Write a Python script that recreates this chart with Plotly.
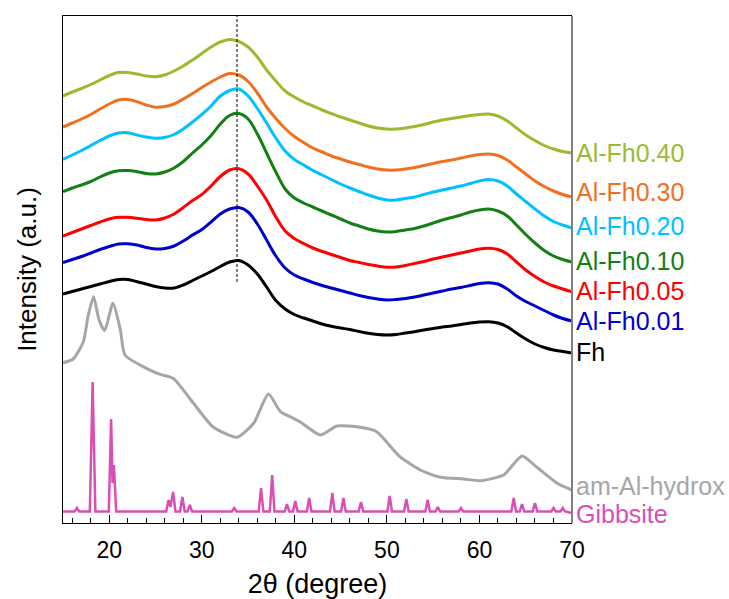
import plotly.graph_objects as go

# ---- data (2-theta in degrees, intensity in arbitrary units, stacked) ----
THETA = list(range(15, 71))  # 15 ... 70 degrees

FH_040 = [427, 431, 434.5, 438.5, 443, 447.5, 450.5, 450.5, 449, 447, 446.3, 448, 452, 457,
          463, 469.5, 476, 481, 483.5, 481.5, 476, 466, 453, 442, 432, 426, 421, 417,
          413, 409.5, 406, 403, 400, 397, 395, 394, 394, 395, 396.5, 398.5, 401, 403,
          404.5, 406, 407.5, 408.5, 409, 407, 402, 395, 388, 382.5, 377.5, 374, 371.5, 370]
FH_030 = [396, 400, 404, 408.5, 414, 419, 423, 423.5, 421.3, 418, 415.8, 416.5, 419, 424,
          429.5, 435.5, 441, 446, 449.5, 448, 441.5, 430, 416, 404.5, 394.5, 386.5, 380.5, 375,
          371, 367, 364, 361, 358.5, 356, 354, 353, 353, 354, 355.5, 357.5, 359.5, 361.5,
          363, 365, 367, 368.5, 369, 367.5, 363, 356, 349, 342, 336.5, 332, 328.5, 326]
FH_020 = [363.7, 368, 372.5, 377.5, 382.5, 387, 390, 390.3, 388, 386, 384.7, 385.5, 388.5, 394,
          401, 408.5, 417, 427, 432.5, 434, 427, 414.5, 400, 385, 372, 363.5, 358, 352.5,
          348, 343.5, 339, 335, 331.5, 328, 325, 323, 323, 324.5, 326, 328.5, 331, 333,
          335, 337, 339.5, 342, 343.5, 342, 337, 329, 321.5, 314, 307, 301.5, 298, 295]
FH_010 = [331.3, 335, 338, 341.5, 346, 350, 352.3, 352.5, 351.3, 349.5, 349, 351, 355, 361.5,
          370, 378, 387.5, 399, 407.5, 409.5, 404, 389, 370, 351, 334, 325, 320, 316,
          312, 308, 304, 300, 297, 294, 292, 291, 291.5, 293, 294.5, 297, 300, 303,
          305.5, 308, 311, 313, 314, 312, 307, 298, 288.5, 280, 272.5, 267, 263.5, 261]
FH_005 = [287, 290.5, 294, 297.5, 301, 304, 305.7, 305.7, 304.7, 303.5, 303, 305, 309, 315.5,
          322.5, 328.5, 337, 346.5, 353, 354.3, 349, 337, 323, 306, 292, 284.5, 279.5, 275,
          271.5, 268.5, 265.5, 262.5, 260.5, 258.5, 257, 255.7, 256, 257.5, 259.5, 261.5, 264, 266,
          268, 270, 272, 274, 274.7, 273.5, 269, 261, 253, 246.5, 241, 237, 234, 231.3]
FH_001 = [260.3, 263.5, 266.5, 270, 273.5, 276.5, 279, 279.2, 278, 275.5, 274, 274.5, 277, 282,
          288, 293.5, 301, 309, 314, 315.5, 311, 299, 283, 267, 255, 248, 244, 240.5,
          237.5, 235, 232.5, 230, 227.5, 225.5, 224, 223, 223.5, 224.5, 226, 228, 230, 232,
          234, 235.5, 237.5, 239.5, 240.3, 239, 234, 227, 221.5, 217, 212.5, 208, 204.5, 202]
FH_000 = [229, 231.5, 234, 236.5, 239, 241.5, 243.5, 243.5, 241.3, 239, 236.5, 235, 235, 238,
          242.5, 247, 251.5, 256.5, 261, 262.5, 258, 249, 236, 222.5, 214, 208.5, 205, 202,
          199, 196.7, 195, 193.5, 191.5, 189.7, 188.5, 188, 188.5, 190, 191.3, 193, 194.5, 196,
          197, 198.5, 200, 201, 201.3, 200, 196.3, 190, 184, 179, 175.5, 173, 171.5, 170]

AM_X = [15, 16.1, 17.2, 17.7, 18.3, 18.9, 19.5, 20.4, 21.2, 21.7, 24.0, 25.5, 26.9,
        29.1, 31.2, 33.8, 35.6, 37.2, 38.5, 39.9, 40.6, 42.8, 44.6, 47.1, 48.9,
        51.4, 53.6, 55.8, 58.3, 60.1, 62.6, 64.6, 66.2, 68.4, 70]
AM_I = [160.3, 164, 181.3, 206.3, 226.3, 203, 192.3, 219.7, 193, 168, 154.7, 148.7, 144.7,
        119.7, 96.3, 85.7, 99.7, 129, 111.3, 104.7, 101.3, 88, 97, 95.7, 91.3,
        66.3, 53, 45.7, 44, 42.3, 48, 67, 55.7, 39.7, 33]

GIB_X = [15, 16.25, 16.5, 16.75, 17.9, 18.2, 18.5, 19.95, 20.2, 20.35, 20.5, 20.75,
         26.15, 26.4, 26.6, 26.9, 27.15, 27.65, 27.9, 28.15, 28.45, 28.7, 28.95,
         33.25, 33.5, 33.75, 36.15, 36.4, 36.65, 37.35, 37.6, 37.85, 38.95, 39.2, 39.45,
         39.85, 40.1, 40.35, 41.35, 41.6, 41.85, 43.85, 44.1, 44.35, 45.05, 45.3, 45.55,
         46.95, 47.2, 47.45, 50.05, 50.3, 50.55, 51.85, 52.1, 52.35, 54.15, 54.4, 54.65,
         55.25, 55.5, 55.75, 57.75, 58.0, 58.25, 63.45, 63.7, 63.95, 64.35, 64.6, 64.85,
         65.75, 66.0, 66.25, 67.75, 68.0, 68.25, 68.75, 69.0, 69.25, 70]
GIB_I = [11.5, 11.5, 15, 11.5, 11.5, 141, 11.5, 11.5, 104, 40, 58, 11.5,
         11.5, 23, 16, 31, 11.5, 11.5, 26, 11.5, 11.5, 18, 11.5,
         11.5, 15, 11.5, 11.5, 35, 11.5, 11.5, 48, 11.5, 11.5, 19, 11.5,
         11.5, 22, 11.5, 11.5, 25, 11.5, 11.5, 30, 11.5, 11.5, 25, 11.5,
         11.5, 21, 11.5, 11.5, 27, 11.5, 11.5, 24, 11.5, 11.5, 23, 11.5,
         11.5, 16, 11.5, 11.5, 15, 11.5, 11.5, 25, 11.5, 11.5, 19, 11.5,
         11.5, 20, 11.5, 11.5, 15, 11.5, 11.5, 15, 11.5, 10]

SERIES = [
    ("Al-Fh0.40", FH_040, "#9BBB2F"),
    ("Al-Fh0.30", FH_030, "#F07022"),
    ("Al-Fh0.20", FH_020, "#00C0FF"),
    ("Al-Fh0.10", FH_010, "#138013"),
    ("Al-Fh0.05", FH_005, "#FF0000"),
    ("Al-Fh0.01", FH_001, "#0000CD"),
    ("Fh", FH_000, "#000000"),
]
AM_NAME, AM_COLOR = "am-Al-hydrox", "#A6A6A6"
GIB_NAME, GIB_COLOR = "Gibbsite", "#D94FB4"

PEAK_LINE_X = 33.8
LABEL_I = [370, 331, 297, 262, 232, 202, 171, 37, 9]

FONT = "Arial, Liberation Sans, sans-serif"

fig = go.Figure()
for name, vals, col in SERIES:
    fig.add_trace(go.Scatter(x=THETA, y=vals, mode="lines", name=name,
                             line=dict(color=col, width=3, shape="spline", smoothing=1.0)))
fig.add_trace(go.Scatter(x=AM_X, y=AM_I, mode="lines", name=AM_NAME,
                         line=dict(color=AM_COLOR, width=3, shape="spline", smoothing=0.6)))
fig.add_trace(go.Scatter(x=GIB_X, y=GIB_I, mode="lines", name=GIB_NAME,
                         line=dict(color=GIB_COLOR, width=2.5)))

names = [s[0] for s in SERIES] + [AM_NAME, GIB_NAME]
cols = [s[2] for s in SERIES] + [AM_COLOR, GIB_COLOR]
for nm, c, yi in zip(names, cols, LABEL_I):
    fig.add_annotation(x=70, y=yi, xref="x", yref="y", text=nm, showarrow=False,
                       xanchor="left", yanchor="middle", xshift=2,
                       font=dict(family=FONT, size=25, color=c))

fig.add_shape(type="line", x0=PEAK_LINE_X, x1=PEAK_LINE_X, y0=241, y1=507,
              xref="x", yref="y", line=dict(color="black", width=1, dash="3px,2px"))
fig.add_shape(type="line", x0=1, x1=1, y0=0, y1=1, xref="paper", yref="paper",
              line=dict(color="#808080", width=2))

fig.update_layout(
    width=729, height=599,
    margin=dict(l=63, r=157, t=16, b=76),
    paper_bgcolor="white", plot_bgcolor="white",
    showlegend=False,
    font=dict(family=FONT, color="black"),
    xaxis=dict(range=[15, 70], tickvals=[20, 30, 40, 50, 60, 70],
               ticks="inside", ticklen=8, tickwidth=1, tickcolor="black",
               minor=dict(dtick=2, tick0=0, ticks="inside", ticklen=5, tickcolor="black"),
               showline=True, linecolor="black", linewidth=1.2, mirror=True,
               showgrid=False, zeroline=False, automargin=False,
               tickfont=dict(size=23, family=FONT), ticklabelstandoff=6,
               title=dict(text="2θ (degree)", font=dict(size=27, family=FONT), standoff=31)),
    yaxis=dict(range=[0, 507], showticklabels=False, ticks="",
               showline=True, linecolor="black", linewidth=1.2, mirror=False,
               showgrid=False, zeroline=False, automargin=False,
               title=dict(text="Intensity (a.u.)", font=dict(size=26, family=FONT), standoff=17)),
)

fig.write_html("out.html", config={"displayModeBar": False},
               post_script="document.body.style.margin='0';")
